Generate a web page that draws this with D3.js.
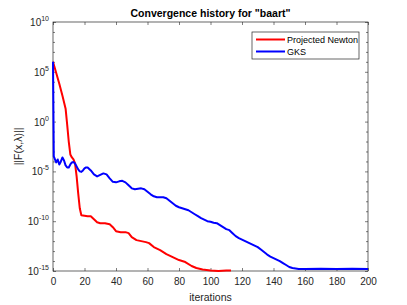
<!doctype html>
<html>
<head>
<meta charset="utf-8">
<script src="https://cdn.jsdelivr.net/npm/d3@7"></script>
<style>
	body { margin: 0; background: #fff; }
	text { font-family: "Liberation Sans", Arial, sans-serif; }
</style>
</head>
<body>
<script>
	// data, values given as log10 of ||F(x,lambda)||
	var newtonIter = [0, 2, 4, 6, 8, 9, 10, 11, 12, 13, 14, 15, 16, 17, 18, 20, 22, 24, 26, 28, 30, 33, 36, 38, 40, 43, 46, 48, 50, 53, 56, 59, 61, 64, 68, 72, 76, 80, 84, 88, 91, 95, 100, 105, 110, 113];
	var newtonLog = [6.0, 4.9, 3.8, 2.6, 1.3, -0.3, -2.0, -3.3, -3.6, -3.8, -4.2, -5.5, -7.2, -8.7, -9.4, -9.45, -9.5, -9.5, -9.8, -10.1, -10.2, -10.2, -10.3, -10.6, -11.0, -11.1, -11.1, -11.2, -11.6, -11.9, -12.0, -12.1, -12.2, -12.6, -12.9, -13.3, -13.6, -13.9, -14.1, -14.5, -14.7, -14.85, -14.95, -15.0, -14.95, -14.95];

	var gksIter = [0, 0.5, 1, 2, 3, 4, 5, 6, 7, 8, 9, 10, 11, 12, 13, 14, 15, 16, 17, 18, 19, 20, 21, 22, 24, 26, 28, 30, 32, 34, 36, 38, 40, 42, 44, 46, 48, 50, 52, 54, 56, 58, 60, 62, 64, 66, 68, 70, 72, 74, 76, 78, 80, 82, 84, 86, 88, 90, 92, 94, 96, 98, 100, 102, 104, 106, 108, 110, 112, 114, 116, 118, 120, 122, 124, 126, 128, 130, 132, 134, 136, 138, 140, 142, 144, 146, 148, 150, 152, 154, 156, 160, 170, 180, 190, 200];
	var gksLog = [6.0, -3.5, -3.7, -4.1, -3.8, -4.3, -4.0, -3.6, -3.9, -4.4, -4.6, -4.6, -4.3, -4.1, -4.05, -4.2, -4.5, -4.8, -5.0, -5.05, -4.9, -4.7, -4.6, -4.6, -4.9, -5.3, -5.5, -5.35, -5.2, -5.3, -5.7, -6.05, -6.1, -6.0, -5.95, -6.1, -6.4, -6.7, -6.8, -6.75, -6.7, -6.8, -7.05, -7.3, -7.5, -7.6, -7.6, -7.6, -7.7, -7.95, -8.2, -8.45, -8.6, -8.7, -8.8, -8.9, -9.1, -9.3, -9.5, -9.7, -9.85, -10.0, -10.05, -10.15, -10.2, -10.4, -10.6, -10.8, -10.9, -11.2, -11.5, -11.7, -11.85, -12.0, -12.15, -12.3, -12.45, -12.6, -12.85, -13.1, -13.35, -13.55, -13.7, -13.85, -14.0, -14.2, -14.4, -14.6, -14.7, -14.75, -14.8, -14.8, -14.78, -14.8, -14.77, -14.8];

	var xTicks = [0, 20, 40, 60, 80, 100, 120, 140, 160, 180, 200];
	var yTickExp = [10, 5, 0, -5, -10, -15];
	var seriesNames = ["Projected Newton", "GKS"];
	var seriesColors = ["#ff0000", "#0000ff"];

	var W = 407, H = 305;
	var margin = {top: 22, right: 39, bottom: 34, left: 53};
	var width = W - margin.left - margin.right;
	var height = H - margin.top - margin.bottom;

	var svg = d3.select("body").append("svg")
		.attr("width", W)
		.attr("height", H);

	var g = svg.append("g")
		.attr("transform", "translate(" + margin.left + "," + margin.top + ")");

	var x = d3.scaleLinear().domain([0, 200]).range([0, width]);
	var y = d3.scaleLog().domain([1e-15, 1e10]).range([height, 0]);

	var axisColor = "#262626";

	// minor ticks, one per decade
	var minor = d3.range(-15, 11).filter(function(e) { return e % 5 != 0; }).map(function(e) { return Math.pow(10, e); });

	// left / right axes
	g.append("g")
		.call(d3.axisLeft(y).tickValues(yTickExp.map(function(e) { return Math.pow(10, e); })).tickSize(-3).tickFormat(""))
		.call(function(a) { a.select(".domain").remove(); });
	g.append("g")
		.call(d3.axisLeft(y).tickValues(minor).tickSize(-2).tickFormat(""))
		.call(function(a) { a.select(".domain").remove(); });
	g.append("g")
		.attr("transform", "translate(" + width + ",0)")
		.call(d3.axisRight(y).tickValues(yTickExp.map(function(e) { return Math.pow(10, e); })).tickSize(-3).tickFormat(""))
		.call(function(a) { a.select(".domain").remove(); });
	g.append("g")
		.attr("transform", "translate(" + width + ",0)")
		.call(d3.axisRight(y).tickValues(minor).tickSize(-2).tickFormat(""))
		.call(function(a) { a.select(".domain").remove(); });

	// bottom / top axes
	g.append("g")
		.attr("transform", "translate(0," + height + ")")
		.call(d3.axisBottom(x).tickValues(xTicks).tickSize(-3).tickPadding(7))
		.call(function(a) { a.select(".domain").remove(); })
		.selectAll("text")
			.attr("fill", axisColor)
			.style("font-size", "10px");
	g.append("g")
		.call(d3.axisTop(x).tickValues(xTicks).tickSize(-3).tickFormat(""))
		.call(function(a) { a.select(".domain").remove(); });

	g.selectAll(".tick line").attr("stroke", axisColor).attr("stroke-width", 0.6);

	// y tick labels with superscripts
	var ylab = g.append("g").selectAll("text")
		.data(yTickExp)
		.enter().append("text")
			.attr("x", -4)
			.attr("y", function(d) { return y(Math.pow(10, d)) + 4; })
			.attr("text-anchor", "end")
			.attr("fill", axisColor)
			.style("font-size", "10px");
	ylab.append("tspan").text("10");
	ylab.append("tspan")
		.attr("dy", -5)
		.style("font-size", "7px")
		.text(function(d) { return d; });

	// box
	g.append("rect")
		.attr("width", width)
		.attr("height", height)
		.attr("fill", "none")
		.attr("stroke", axisColor)
		.attr("stroke-width", 0.7);

	// lines
	var line = d3.line()
		.x(function(d) { return x(d[0]); })
		.y(function(d) { return y(Math.pow(10, d[1])); });

	var newton = d3.zip(newtonIter, newtonLog);
	var gks = d3.zip(gksIter, gksLog);

	g.append("path")
		.datum(newton)
		.attr("fill", "none")
		.attr("stroke", seriesColors[0])
		.attr("stroke-width", 2)
		.attr("stroke-linejoin", "round")
		.attr("d", line);

	g.append("path")
		.datum(gks)
		.attr("fill", "none")
		.attr("stroke", seriesColors[1])
		.attr("stroke-width", 2)
		.attr("stroke-linejoin", "round")
		.attr("d", line);

	// title and axis labels
	svg.append("text")
		.attr("x", margin.left + width / 2)
		.attr("y", 17)
		.attr("text-anchor", "middle")
		.style("font-size", "10.5px")
		.style("font-weight", "bold")
		.attr("fill", "#000")
		.text('Convergence history for "baart"');

	svg.append("text")
		.attr("x", margin.left + width / 2)
		.attr("y", 301)
		.attr("text-anchor", "middle")
		.style("font-size", "10.5px")
		.attr("fill", axisColor)
		.text("iterations");

	svg.append("text")
		.attr("transform", "translate(22," + (margin.top + height / 2) + ") rotate(-90)")
		.attr("text-anchor", "middle")
		.style("font-size", "10.5px")
		.attr("fill", axisColor)
		.text("||F(x,\u03bb)||");

	// legend
	var leg = svg.append("g").attr("transform", "translate(252,32)");
	leg.append("rect")
		.attr("width", 107)
		.attr("height", 27)
		.attr("fill", "#fff")
		.attr("stroke", axisColor)
		.attr("stroke-width", 0.7);
	seriesNames.forEach(function(name, i) {
		leg.append("line")
			.attr("x1", 4).attr("x2", 33)
			.attr("y1", 7.5 + i * 12).attr("y2", 7.5 + i * 12)
			.attr("stroke", seriesColors[i])
			.attr("stroke-width", 2);
		leg.append("text")
			.attr("x", 35)
			.attr("y", 11 + i * 12)
			.style("font-size", "9px")
			.attr("fill", "#000")
			.text(name);
	});
</script>
</body>
</html>
